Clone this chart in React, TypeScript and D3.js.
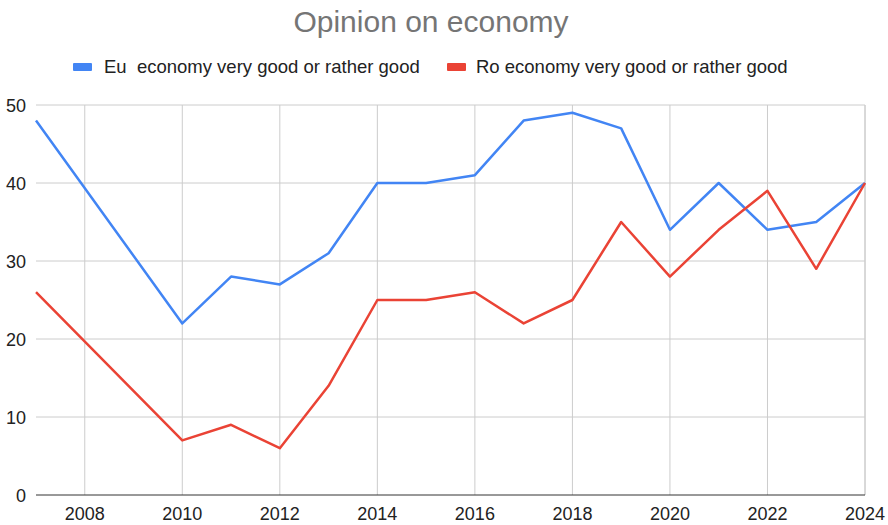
import React from "react";
import * as d3 from "d3";

const years = [2007, 2010, 2011, 2012, 2013, 2014, 2015, 2016, 2017, 2018, 2019, 2020, 2021, 2022, 2023, 2024];
const euValues = [48, 22, 28, 27, 31, 40, 40, 41, 48, 49, 47, 34, 40, 34, 35, 40];
const roValues = [26, 7, 9, 6, 14, 25, 25, 26, 22, 25, 35, 28, 34, 39, 29, 40];
const xTicks = [2008, 2010, 2012, 2014, 2016, 2018, 2020, 2022, 2024];
const yTicks = [0, 10, 20, 30, 40, 50];
const seriesNames = ["Eu  economy very good or rather good", "Ro economy very good or rather good"];
const seriesColors = ["#4285F4", "#EA4335"];
const title = "Opinion on economy";

export default function App() {
  const W = 888, H = 525;
  const left = 36, right = 865, top = 105, bottom = 495;
  const x = d3.scaleLinear().domain([2007, 2024]).range([left, right]);
  const y = d3.scaleLinear().domain([0, 50]).range([bottom, top]);
  const line = d3.line<[number, number]>().x(d => x(d[0])).y(d => y(d[1]));
  const series = [euValues, roValues];
  const font = "'Liberation Sans', Arial, sans-serif";
  return (
    <svg width={W} height={H} style={{ position: "absolute", left: 0, top: 0, background: "#fff" }} fontFamily={font}>
      <rect x={0} y={0} width={W} height={H} fill="#fff" />
      <text x={431} y={32} textAnchor="middle" fontSize={30} fill="#757575">{title}</text>
      {/* legend */}
      <rect x={73} y={63} width={19} height={8} rx={1} fill={seriesColors[0]} />
      <text x={104} y={73} fontSize={18.5} fill="#222" style={{ whiteSpace: "pre" }}>{seriesNames[0]}</text>
      <rect x={447} y={63} width={19} height={8} rx={1} fill={seriesColors[1]} />
      <text x={476} y={73} fontSize={18.5} fill="#222" style={{ whiteSpace: "pre" }}>{seriesNames[1]}</text>
      {/* gridlines */}
      {yTicks.filter(t => t !== 0).map(t => (
        <line key={"gy" + t} x1={left} x2={right} y1={y(t)} y2={y(t)} stroke="#cccccc" strokeWidth={1} />
      ))}
      {xTicks.map(t => (
        <line key={"gx" + t} x1={x(t)} x2={x(t)} y1={top} y2={bottom} stroke="#cccccc" strokeWidth={1} />
      ))}
      <line x1={right} x2={right} y1={top} y2={bottom} stroke="#cccccc" strokeWidth={1} />
      <line x1={left} x2={right} y1={y(0)} y2={y(0)} stroke="#333" strokeWidth={1} />
      {yTicks.map(t => (
        <text key={"ty" + t} x={26} y={y(t) + 6.5} textAnchor="end" fontSize={18} fill="#222">{t}</text>
      ))}
      {xTicks.map(t => (
        <text key={"tx" + t} x={x(t)} y={520} textAnchor="middle" fontSize={18} fill="#222">{t}</text>
      ))}
      {series.map((vals, i) => (
        <path key={"s" + i} d={line(years.map((yr, j) => [yr, vals[j]]) as [number, number][]) || ""}
          fill="none" stroke={seriesColors[i]} strokeWidth={2.5} strokeLinejoin="round" />
      ))}
    </svg>
  );
}
